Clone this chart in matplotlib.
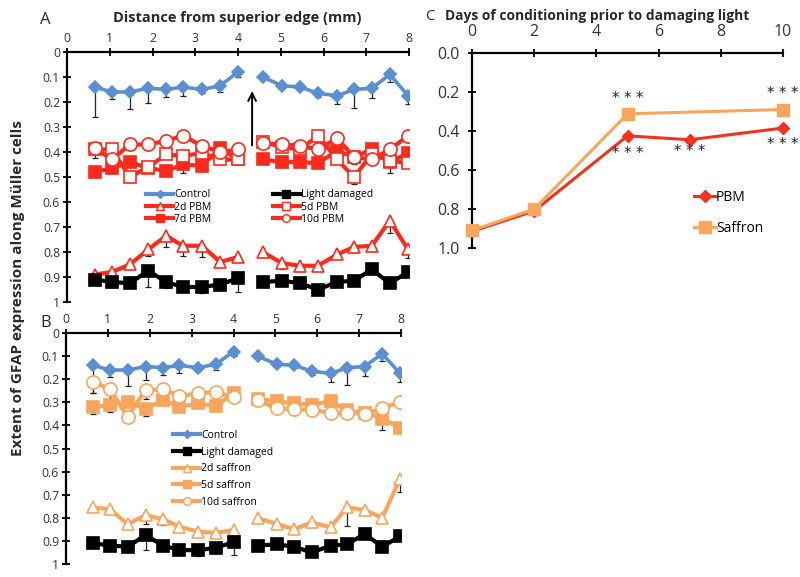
import numpy as np
import matplotlib.pyplot as plt
from matplotlib.lines import Line2D

plt.rcParams['font.family'] = ['Open Sans', 'DejaVu Sans']

# DATA
# x positions (mm from superior edge), two retinal halves
dist_mm = [0.65, 1.05, 1.47, 1.9, 2.32, 2.71, 3.16, 3.58, 4.0,
           4.58, 5.03, 5.45, 5.87, 6.32, 6.71, 7.13, 7.55, 7.98]

control = [0.14, 0.16, 0.16, 0.145, 0.15, 0.14, 0.15, 0.135, 0.08,
           0.10, 0.135, 0.14, 0.165, 0.175, 0.15, 0.145, 0.09, 0.175]
control_err = [0.12, 0.03, 0.07, 0.06, 0.03, 0.035, 0.015, 0.025, 0.02,
               0.01, 0.005, 0.01, 0.015, 0.035, 0.075, 0.04, 0.03, 0.035]

light_damaged = [0.91, 0.92, 0.925, 0.875, 0.92, 0.94, 0.94, 0.93, 0.905,
                 0.92, 0.915, 0.925, 0.95, 0.92, 0.915, 0.87, 0.925, 0.88]
light_err = [0.02, 0.0, 0.0, 0.065, 0.025, 0.0, 0.025, 0.0, 0.055,
             0.0, 0.0, 0.0, 0.0, 0.0, 0.0, 0.0, 0.0, 0.0]

pbm_2d = [0.89, 0.88, 0.85, 0.79, 0.735, 0.775, 0.775, 0.84, 0.82,
          0.80, 0.845, 0.855, 0.855, 0.81, 0.78, 0.775, 0.675, 0.79]
pbm_2d_err = [0.02, 0.0, 0.02, 0.025, 0.045, 0.04, 0.045, 0.0, 0.0,
              0.02, 0.025, 0.0, 0.0, 0.01, 0.02, 0.02, 0.05, 0.035]

pbm_5d = [0.39, 0.39, 0.50, 0.46, 0.41, 0.415, 0.405, 0.43, 0.43,
          0.36, 0.38, 0.39, 0.335, 0.43, 0.50, 0.41, 0.435, 0.445]
pbm_5d_err = [0.0, 0.0, 0.01, 0.0, 0.0, 0.0, 0.0, 0.02, 0.0,
              0.0, 0.0, 0.0, 0.0, 0.0, 0.03, 0.0, 0.05, 0.0]

pbm_7d = [0.48, 0.465, 0.44, 0.465, 0.475, 0.45, 0.455, 0.385, 0.43,
          0.43, 0.44, 0.44, 0.445, 0.395, 0.42, 0.39, 0.44, 0.405]
pbm_7d_err = [0.0, 0.02, 0.0, 0.0, 0.02, 0.035, 0.02, 0.05, 0.0,
              0.0, 0.0, 0.02, 0.0, 0.0, 0.0, 0.0, 0.0, 0.0]

pbm_10d = [0.385, 0.43, 0.37, 0.37, 0.355, 0.335, 0.375, 0.40, 0.39,
           0.365, 0.37, 0.375, 0.39, 0.345, 0.42, 0.43, 0.39, 0.335]
pbm_10d_err = [0.04, 0.0, 0.02, 0.015, 0.0, 0.0, 0.0, 0.0, 0.0,
               0.02, 0.01, 0.0, 0.0, 0.0, 0.03, 0.02, 0.0, 0.02]

saff_2d = [0.755, 0.763, 0.827, 0.788, 0.807, 0.838, 0.86, 0.865, 0.853,
           0.80, 0.827, 0.849, 0.82, 0.84, 0.755, 0.766, 0.80, 0.63]
saff_2d_err = [0.0, 0.02, 0.0, 0.04, 0.025, 0.0, 0.0, 0.01, 0.0,
               0.0, 0.0, 0.02, 0.02, 0.02, 0.08, 0.0, 0.0, 0.06]

saff_5d = [0.322, 0.31, 0.297, 0.33, 0.29, 0.319, 0.305, 0.316, 0.261,
           0.285, 0.295, 0.305, 0.31, 0.295, 0.335, 0.345, 0.37, 0.41]
saff_5d_err = [0.03, 0.03, 0.0, 0.03, 0.0, 0.0, 0.0, 0.02, 0.0,
               0.0, 0.02, 0.02, 0.0, 0.0, 0.0, 0.03, 0.05, 0.0]

saff_10d = [0.21, 0.244, 0.362, 0.247, 0.244, 0.273, 0.261, 0.254, 0.278,
            0.29, 0.326, 0.33, 0.333, 0.345, 0.345, 0.35, 0.326, 0.297]
saff_10d_err = [0.05, 0.04, 0.02, 0.04, 0.05, 0.0, 0.0, 0.0, 0.0,
                0.0, 0.0, 0.0, 0.0, 0.0, 0.0, 0.0, 0.0, 0.02]

# panel C
cond_days = [0, 2, 5, 7, 10]
pbm_days = [0.915, 0.81, 0.425, 0.445, 0.385]
saff_days_x = [0, 2, 5, 10]
saff_days = [0.91, 0.80, 0.312, 0.29]
# significance marks (day, position)
star_x = [5, 10, 5, 7, 10]
star_y = [0.235, 0.21, 0.515, 0.505, 0.47]

BLUE = '#5b8fd2'
RED = '#fb2a1c'
ORANGE = '#f8a55e'
RED_C = '#f0321e'
TXT = '#2a2a2a'


def style_axis(ax, xmax, yticks, ylabels, fs, pad=2):
    ax.set_xlim(0, xmax)
    ax.set_ylim(1, 0)
    ax.xaxis.tick_top()
    ax.spines['right'].set_visible(False)
    ax.spines['bottom'].set_visible(False)
    ax.spines['top'].set_linewidth(1.6)
    ax.spines['left'].set_linewidth(1.6)
    ax.set_yticks(yticks)
    ax.set_yticklabels(ylabels)
    ax.tick_params(direction='inout', length=6, width=1.3, labelsize=fs,
                   colors='black', pad=pad)
    ax.tick_params(axis='both', labelcolor='#333333')


def plot_series(ax, y, err, color, marker, ms, face, lw=3.0, z=3):
    # two halves plotted separately so they are not joined
    for s in (slice(0, 9), slice(9, 18)):
        xs = dist_mm[s]
        ys = y[s]
        es = err[s]
        ax.errorbar(xs, ys, yerr=[np.zeros(len(es)), es], fmt='none',
                    ecolor='#222222', elinewidth=0.9, capsize=2.5,
                    capthick=0.9, zorder=z - 0.5)
        ax.plot(xs, ys, color=color, lw=lw, marker=marker, ms=ms,
                mfc=face, mec=color, mew=1.2, zorder=z)


def handle(color, marker, face, ms=5.5):
    return Line2D([], [], color=color, lw=3, marker=marker, ms=ms,
                  mfc=face, mec=color, mew=1.0)


fig = plt.figure(figsize=(8, 5.77), dpi=100)

ticks01 = [i / 10 for i in range(11)]
labels01 = ['0'] + ['0.%d' % i for i in range(1, 10)] + ['1']

#PANEL A
axA = fig.add_axes([0.08375, 0.4766, 0.4275, 0.4333])
style_axis(axA, 8, ticks01, labels01, 8.8)
axA.set_xticks(range(9))
plot_series(axA, pbm_2d, pbm_2d_err, RED, '^', 9, 'white')
plot_series(axA, pbm_7d, pbm_7d_err, RED, 's', 8.5, RED)
plot_series(axA, pbm_5d, pbm_5d_err, RED, 's', 9, 'white')
plot_series(axA, pbm_10d, pbm_10d_err, RED, 'o', 9.5, 'white')
plot_series(axA, light_damaged, light_err, 'black', 's', 8.5, 'black')
plot_series(axA, control, control_err, BLUE, 'D', 6, BLUE, lw=2.6)
axA.annotate('', xy=(4.33, 0.145), xytext=(4.33, 0.385),
             arrowprops=dict(arrowstyle='->', color='black', lw=1.4,
                             mutation_scale=14))

legA = [
    (handle(BLUE, 'D', BLUE, 4), 'Control'),
    (handle(RED, '^', 'white'), '2d PBM'),
    (handle(RED, 's', RED), '7d PBM'),
    (handle('black', 's', 'black'), 'Light damaged'),
    (handle(RED, 's', 'white'), '5d PBM'),
    (handle(RED, 'o', 'white'), '10d PBM'),
]
fig.legend([h for h, _ in legA], [t for _, t in legA], ncol=2,
           loc='upper left', bbox_to_anchor=(0.176, 0.681), frameon=False,
           fontsize=7.5, handlelength=2.6, handletextpad=0.1,
           labelspacing=0.12, columnspacing=5.9, borderpad=0)

#PANEL B
axB = fig.add_axes([0.0825, 0.0225, 0.41875, 0.4003])
style_axis(axB, 8, ticks01, labels01, 8.8)
axB.set_xticks(range(9))
plot_series(axB, saff_2d, saff_2d_err, ORANGE, '^', 9, 'white')
plot_series(axB, saff_5d, saff_5d_err, ORANGE, 's', 8.5, ORANGE)
plot_series(axB, saff_10d, saff_10d_err, ORANGE, 'o', 9.5, 'white')
plot_series(axB, light_damaged, light_err, 'black', 's', 8.5, 'black')
plot_series(axB, control, control_err, BLUE, 'D', 6, BLUE, lw=2.6)

legB = [
    (handle(BLUE, 'D', BLUE, 4), 'Control'),
    (handle('black', 's', 'black'), 'Light damaged'),
    (handle(ORANGE, '^', 'white'), '2d saffron'),
    (handle(ORANGE, 's', ORANGE), '5d saffron'),
    (handle(ORANGE, 'o', 'white'), '10d saffron'),
]
fig.legend([h for h, _ in legB], [t for _, t in legB], ncol=1,
           loc='upper left', bbox_to_anchor=(0.21, 0.264), frameon=False,
           fontsize=7.5, handlelength=2.6, handletextpad=0.1,
           labelspacing=0.55, borderpad=0)

#PANEL C
axC = fig.add_axes([0.59, 0.5702, 0.38875, 0.338])
style_axis(axC, 10, [0, 0.2, 0.4, 0.6, 0.8, 1.0],
           ['0.0', '0.2', '0.4', '0.6', '0.8', '1.0'], 11.5, pad=6)
axC.set_xticks([0, 2, 4, 6, 8, 10])
axC.set_xlim(0, 10)
axC.plot(cond_days, pbm_days, color=RED_C, lw=2.2, marker='D', ms=6,
         mec=RED_C, label='PBM', clip_on=False, zorder=3)
axC.plot(saff_days_x, saff_days, color=ORANGE, lw=2.2, marker='s', ms=8,
         mec=ORANGE, label='Saffron', clip_on=False, zorder=4)
for x, y in zip(star_x, star_y):
    axC.text(x, y, '* * *', ha='center', va='center', fontsize=10.5,
             color='#222222', family='DejaVu Sans')
axC.legend(loc='upper left', bbox_to_anchor=(0.69, 0.335), frameon=False,
           fontsize=10, handlelength=1.6, handletextpad=0.0,
           labelspacing=1.2, borderpad=0)

#TEXT
fig.text(0.05, 0.966, 'A', fontsize=12, va='center', color=TXT)
fig.text(0.05, 0.44, 'B', fontsize=12, va='center', color=TXT)
fig.text(0.297, 0.968, 'Distance from superior edge (mm)', fontsize=10.5,
         fontweight='bold', ha='center', va='center', color=TXT)
fig.text(0.531, 0.972, 'C', fontsize=11, va='center', color=TXT)
fig.text(0.556, 0.972, 'Days of conditioning prior to damaging light',
         fontsize=9.9, fontweight='bold', va='center', color=TXT)
fig.text(0.022, 0.5, 'Extent of GFAP expression along Müller cells',
         fontsize=11, fontweight='bold', rotation=90, ha='center',
         va='center', color=TXT)

plt.savefig('out.png', dpi=100)
